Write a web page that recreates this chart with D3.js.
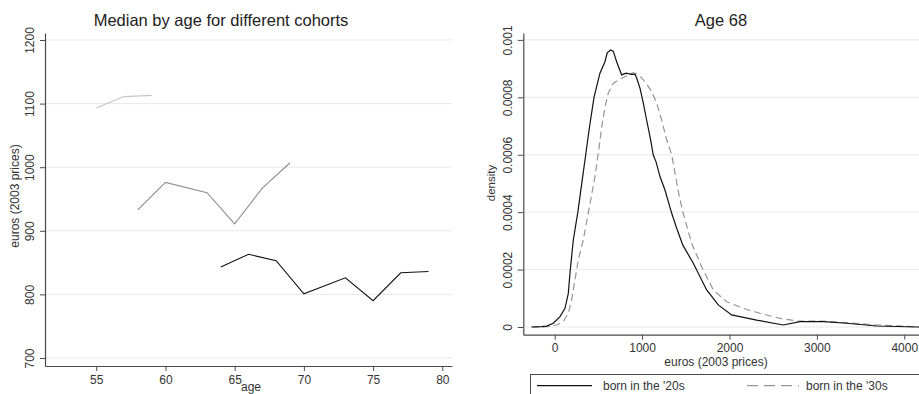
<!DOCTYPE html>
<html>
<head>
<meta charset="utf-8">
<script src="https://cdn.jsdelivr.net/npm/d3@7/dist/d3.min.js"></script>
<style>
  html, body { margin: 0; padding: 0; background: #fff; overflow: hidden; }
  svg { display: block; font-family: "Liberation Sans", Arial, Helvetica, sans-serif; }
</style>
</head>
<body>
<svg id="chart" width="919" height="394"></svg>
<script>
// ---- Left panel: median income by age, one line per birth cohort ----
const ages40s = [55, 57, 59];
const median40s = [1093, 1111, 1113];

const ages30s = [58, 60, 63, 65, 67, 69];
const median30s = [933, 976, 960, 911, 967, 1007];

const ages20s = [64, 66, 68, 70, 73, 75, 77, 79];
const median20s = [843, 863, 853, 801, 826, 790, 834, 836];

const ageTicks = [55, 60, 65, 70, 75, 80];
const medianTicks = [700, 800, 900, 1000, 1100, 1200];

// ---- Right panel: income density at age 68 ----
const euros20s = [-263, -150, -92, -16, 61, 118, 156, 175, 194, 213, 265, 310, 355, 400, 450,
  518, 575, 602, 640, 671, 709, 766, 816, 881, 919, 938, 976, 1014, 1052, 1098, 1128, 1159,
  1205, 1262, 1339, 1396, 1465, 1586, 1739, 1872, 2025, 2311, 2615, 2807, 3073, 3341, 3684, 4142, 4200];
const density20s = [0, 0.000001, 0.000003, 0.000013, 0.000036, 0.000065, 0.000117, 0.000187,
  0.000245, 0.000303, 0.0004, 0.0005, 0.0006, 0.0007, 0.0008, 0.000884, 0.000924, 0.000956,
  0.000965, 0.00096, 0.000924, 0.000878, 0.000884, 0.00088, 0.00088, 0.000867, 0.000832,
  0.00078, 0.000721, 0.000652, 0.000599, 0.000576, 0.000524, 0.000477, 0.000396, 0.000344,
  0.000286, 0.000222, 0.000129, 0.000077, 0.000042, 0.000024, 0.000007, 0.000019, 0.000019,
  0.000013, 0.0000035, 0, 0];

const euros30s = [-263, -92, 23, 99, 156, 194, 232, 270, 327, 384, 461, 510, 540, 575, 614,
  671, 747, 824, 899, 957, 1033, 1110, 1167, 1224, 1281, 1339, 1426, 1471, 1567, 1682, 1815,
  1968, 2158, 2349, 2578, 2769, 3035, 3341, 3684, 4142, 4200];
const density30s = [0, 0.000001, 0.000007, 0.000019, 0.000048, 0.000094, 0.000164, 0.000233,
  0.000303, 0.000396, 0.000524, 0.00063, 0.0007, 0.000765, 0.000815, 0.000849, 0.000863,
  0.000875, 0.000886, 0.00088, 0.000855, 0.00082, 0.00078, 0.000721, 0.000652, 0.0006,
  0.000454, 0.000396, 0.000292, 0.00021, 0.000129, 0.000088, 0.000065, 0.000048, 0.00003,
  0.000021, 0.000021, 0.000015, 0.000007, 0.000001, 0];

const euroTicks = [0, 1000, 2000, 3000, 4000];
const densityTicks = [0, 0.0002, 0.0004, 0.0006, 0.0008, 0.001];
const densityTickLabels = ["0", "0.0002", "0.0004", "0.0006", "0.0008", "0.001"];

const legendLabels = ["born in the '20s", "born in the '30s"];

const svg = d3.select("#chart");
const axisColor = "#4a4a4a";
const gridColor = "#e8e8e8";
const textColor = "#333";
const plain = d3.format("d");

function styleAxis(g) {
  g.select(".domain").attr("stroke", axisColor).attr("stroke-width", 1.2);
  g.selectAll(".tick line").attr("stroke", axisColor);
  g.selectAll(".tick text").attr("fill", textColor).attr("font-size", 12);
}

function rotateYLabels(g) {
  g.selectAll(".tick text")
    .attr("transform", "rotate(-90)")
    .attr("x", 0).attr("y", -11).attr("dy", 0)
    .attr("text-anchor", "middle");
}

// ================= Left panel =================
const xL = d3.scaleLinear().domain([51.3, 80.7]).range([45, 452]);
const yL = d3.scaleLinear().domain([687.4, 1211]).range([366, 33]);

const left = svg.append("g");

left.append("g").selectAll("line").data(medianTicks).join("line")
  .attr("x1", 45).attr("x2", 452)
  .attr("y1", d => yL(d)).attr("y2", d => yL(d))
  .attr("stroke", gridColor).attr("stroke-width", 1);

const lineL = d3.line().x(d => xL(d[0])).y(d => yL(d[1]));
const cohorts = [
  { ages: ages40s, vals: median40s, color: "#c4c4c4" },
  { ages: ages30s, vals: median30s, color: "#8e8e8e" },
  { ages: ages20s, vals: median20s, color: "#111" }
];
cohorts.forEach(c => {
  left.append("path")
    .datum(d3.zip(c.ages, c.vals))
    .attr("d", lineL)
    .attr("fill", "none")
    .attr("stroke", c.color)
    .attr("stroke-width", 1.1);
});

const xAxisL = left.append("g").attr("transform", "translate(0,366)")
  .call(d3.axisBottom(xL).tickValues(ageTicks).tickFormat(plain)
    .tickSize(5).tickPadding(4).tickSizeOuter(0));
styleAxis(xAxisL);

const yAxisL = left.append("g").attr("transform", "translate(45,0)")
  .call(d3.axisLeft(yL).tickValues(medianTicks).tickFormat(plain)
    .tickSize(5).tickSizeOuter(0));
styleAxis(yAxisL);
rotateYLabels(yAxisL);

left.append("text").attr("x", 221).attr("y", 26).attr("text-anchor", "middle")
  .attr("font-size", 16.5).attr("fill", "#222").text("Median by age for different cohorts");
left.append("text").attr("x", 251).attr("y", 391).attr("text-anchor", "middle")
  .attr("font-size", 12).attr("fill", textColor).text("age");
left.append("text").attr("transform", "translate(19,196) rotate(-90)")
  .attr("text-anchor", "middle").attr("font-size", 12).attr("fill", textColor)
  .text("euros (2003 prices)");

// ================= Right panel =================
const xR = d3.scaleLinear().domain([-359, 4180]).range([523.3, 920]);
const yR = d3.scaleLinear().domain([-0.0000268, 0.001024]).range([334.7, 33]);

const right = svg.append("g");

right.append("g").selectAll("line").data(densityTicks).join("line")
  .attr("x1", 523.3).attr("x2", 919)
  .attr("y1", d => yR(d)).attr("y2", d => yR(d))
  .attr("stroke", gridColor).attr("stroke-width", 1);

const lineR = d3.line().x(d => xR(d[0])).y(d => yR(d[1]));

right.append("path")
  .datum(d3.zip(euros30s, density30s))
  .attr("d", lineR)
  .attr("fill", "none").attr("stroke", "#959595").attr("stroke-width", 1.2)
  .attr("stroke-dasharray", "7,4");

right.append("path")
  .datum(d3.zip(euros20s, density20s))
  .attr("d", lineR)
  .attr("fill", "none").attr("stroke", "#111").attr("stroke-width", 1.2);

const xAxisR = right.append("g").attr("transform", "translate(0,334.7)")
  .call(d3.axisBottom(xR).tickValues(euroTicks).tickFormat(plain)
    .tickSize(5).tickPadding(4).tickSizeOuter(0));
styleAxis(xAxisR);

const yAxisR = right.append("g").attr("transform", "translate(523.3,0)")
  .call(d3.axisLeft(yR).tickValues(densityTicks)
    .tickFormat((d, i) => densityTickLabels[i]).tickSize(5.5).tickSizeOuter(0));
styleAxis(yAxisR);
rotateYLabels(yAxisR);

right.append("text").attr("x", 721).attr("y", 26).attr("text-anchor", "middle")
  .attr("font-size", 16.5).attr("fill", "#222").text("Age 68");
right.append("text").attr("x", 716).attr("y", 366).attr("text-anchor", "middle")
  .attr("font-size", 12).attr("fill", textColor).text("euros (2003 prices)");
right.append("text").attr("transform", "translate(495,183) rotate(-90)")
  .attr("text-anchor", "middle").attr("font-size", 11.5).attr("fill", textColor)
  .text("density");

// Legend
const legend = right.append("g");
legend.append("rect").attr("x", 530.5).attr("y", 374.5).attr("width", 420).attr("height", 40)
  .attr("fill", "#fff").attr("stroke", axisColor).attr("stroke-width", 1);
const legendItems = [
  { x1: 537, x2: 592, tx: 603, color: "#111", dash: null, label: legendLabels[0] },
  { x1: 747, x2: 799, tx: 806, color: "#959595", dash: "11,6", label: legendLabels[1] }
];
legendItems.forEach(it => {
  legend.append("line").attr("x1", it.x1).attr("x2", it.x2).attr("y1", 385.7).attr("y2", 385.7)
    .attr("stroke", it.color).attr("stroke-width", 1.2)
    .attr("stroke-dasharray", it.dash);
  legend.append("text").attr("x", it.tx).attr("y", 389.5).attr("font-size", 12)
    .attr("fill", textColor).text(it.label);
});
</script>
</body>
</html>
